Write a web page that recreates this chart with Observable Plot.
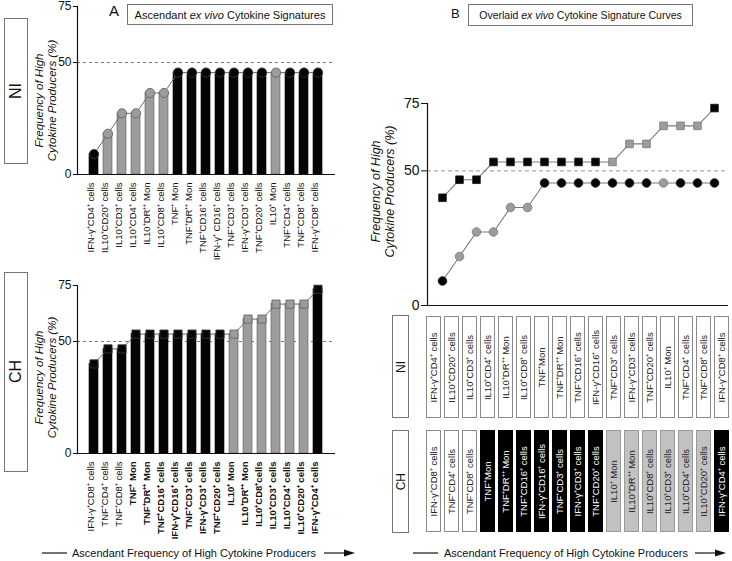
<!DOCTYPE html>
<html><head><meta charset="utf-8">
<script src="https://cdn.jsdelivr.net/npm/d3@7"></script>
<script src="https://cdn.jsdelivr.net/npm/@observablehq/plot@0.6"></script>
<style>
body{margin:0;background:#fff;font-family:"Liberation Sans",Arial,sans-serif;}
#root{position:relative;width:732px;height:561px;overflow:hidden;background:#fff;}
.box{position:absolute;border:1px solid #777;box-sizing:border-box;display:flex;align-items:center;justify-content:center;background:#fff;color:#111;white-space:nowrap;}
.vt{writing-mode:vertical-rl;transform:rotate(180deg);}
.lbl{position:absolute;color:#111;}
</style></head>
<body><div id="root">
<div class="lbl" style="left:109px;top:2px;font-size:15px;">A</div>
<div class="box" style="left:127px;top:4px;width:206px;height:21px;font-size:11px;">Ascendant&nbsp; <i>ex vivo</i>&nbsp;Cytokine Signatures</div>
<div class="lbl" style="left:451px;top:6px;font-size:13px;">B</div>
<div class="box" style="left:468px;top:4px;width:225px;height:22px;font-size:10.5px;">Overlaid&nbsp;<i>ex vivo</i>&nbsp;Cytokine Signature Curves</div>
<div class="box" style="left:4px;top:18px;width:24px;height:146px;font-size:16px;"><span class="vt">NI</span></div>
<div class="box" style="left:4px;top:272px;width:24px;height:200px;font-size:16px;"><span class="vt">CH</span></div>
<div class="box" style="left:392px;top:315px;width:17px;height:103px;font-size:12px;"><span class="vt">NI</span></div>
<div class="box" style="left:392px;top:430px;width:17px;height:103px;font-size:12px;"><span class="vt">CH</span></div>
<svg style="position:absolute;left:0;top:0" width="732" height="561" font-family="Liberation Sans, Arial, sans-serif">
  <line x1="42" y1="553" x2="67" y2="553" stroke="#111" stroke-width="1.2"/>
  <text x="194" y="557" text-anchor="middle" font-size="11" fill="#111">Ascendant Frequency of High Cytokine Producers</text>
  <line x1="324" y1="553" x2="348" y2="553" stroke="#111" stroke-width="1.2"/>
  <path d="M344,549.5 L355,553 L344,556.5 Z" fill="#111"/>
  <line x1="413" y1="553" x2="438" y2="553" stroke="#111" stroke-width="1.2"/>
  <text x="566" y="557" text-anchor="middle" font-size="11" fill="#111">Ascendant Frequency of High Cytokine Producers</text>
  <line x1="695" y1="553" x2="719" y2="553" stroke="#111" stroke-width="1.2"/>
  <path d="M715,549.5 L726,553 L715,556.5 Z" fill="#111"/>
</svg>
</div>
<script>
// ---- data ----
const ranks = d3.range(17);
const niLabels = ["IFN-γ⁺CD4⁺ cells","IL10⁺CD20⁺ cells","IL10⁺CD3⁺ cells","IL10⁺CD4⁺ cells","IL10⁺DR⁺⁺ Mon","IL10⁺CD8⁺ cells","TNF⁺ Mon","TNF⁺DR⁺⁺ Mon","TNF⁺CD16⁺ cells","IFN-γ⁺ CD16⁺ cells","TNF⁺CD3⁺ cells","IFN-γ⁺CD3⁺ cells","TNF⁺CD20⁺ cells","IL10⁺ Mon","TNF⁺CD4⁺ cells","TNF⁺CD8⁺ cells","IFN-γ⁺CD8⁺ cells"];
const niValues = [9.1,18.2,27.3,27.3,36.4,36.4,45.5,45.5,45.5,45.5,45.5,45.5,45.5,45.5,45.5,45.5,45.5];
const niTone = ["black","gray","gray","gray","gray","gray","black","black","black","black","black","black","black","gray","black","black","black"];
const niBoxLabels = ["IFN-γ⁺CD4⁺ cells","IL10⁺CD20⁺ cells","IL10⁺CD3⁺ cells","IL10⁺CD4⁺ cells","IL10⁺DR⁺⁺ Mon","IL10⁺CD8⁺ cells","TNF⁺Mon","TNF⁺DR⁺⁺ Mon","TNF⁺CD16⁺ cells","IFN-γ⁺CD16⁺ cells","TNF⁺CD3⁺ cells","IFN-γ⁺CD3⁺ cells","TNF⁺CD20⁺ cells","IL10⁺ Mon","TNF⁺CD4⁺ cells","TNF⁺CD8⁺ cells","IFN-γ⁺CD8⁺ cells"];

const chLabels = ["IFN-γ⁺CD8⁺ cells","TNF⁺CD4⁺ cells","TNF⁺CD8⁺ cells","TNF⁺ Mon","TNF⁺DR⁺⁺ Mon","TNF⁺CD16⁺ cells","IFN-γ⁺CD16⁺ cells","TNF⁺CD3⁺ cells","IFN-γ⁺CD3⁺ cells","TNF⁺CD20⁺ cells","IL10⁺ Mon","IL10⁺DR⁺⁺ Mon","IL10⁺CD8⁺cells","IL10⁺CD3⁺ cells","IL10⁺CD4⁺ cells","IL10⁺CD20⁺ cells","IFN-γ⁺CD4⁺ cells"];
const chValues = [40,46.7,46.7,53.3,53.3,53.3,53.3,53.3,53.3,53.3,53.3,60,60,66.7,66.7,66.7,73.3];
const chTone = ["black","black","black","black","black","black","black","black","black","black","gray","gray","gray","gray","gray","gray","black"];
const chEmph = [false,false,false,true,true,true,true,true,true,true,true,true,true,true,true,true,true];
const chBoxLabels = ["IFN-γ⁺CD8⁺ cells","TNF⁺CD4⁺ cells","TNF⁺CD8⁺ cells","TNF⁺Mon","TNF⁺DR⁺⁺ Mon","TNF⁺CD16⁺ cells","IFN-γ⁺CD16⁺ cells","TNF⁺CD3⁺ cells","IFN-γ⁺CD3⁺ cells","TNF⁺CD20⁺ cells","IL10⁺ Mon","IL10⁺DR⁺⁺ Mon","IL10⁺CD8⁺ cells","IL10⁺CD3⁺ cells","IL10⁺CD4⁺ cells","IL10⁺CD20⁺ cells","IFN-γ⁺CD4⁺ cells"];
const chBoxTone = ["white","white","white","black","black","black","black","black","black","black","gray","gray","gray","gray","gray","gray","black"];
const yTicks = [0,50,75];
const yLabel = "Frequency of High\nCytokine Producers (%)";

// ---- build ----
const FONT = '"Liberation Sans", Arial, sans-serif';
const root = document.getElementById("root");
function place(svg, left, top){ svg.style.position="absolute"; svg.style.left=left+"px"; svg.style.top=top+"px"; root.appendChild(svg); }
const fillOf = t => t==="black" ? "#050505" : t==="gray" ? "#9c9c9c" : "#ffffff";
const strokeOf = t => t==="gray" ? "#5a5a5a" : "#000";

const ni = niLabels.map((label,i)=>({i,label,value:niValues[i],tone:niTone[i],box:niBoxLabels[i]}));
const ch = chLabels.map((label,i)=>({i,label,value:chValues[i],tone:chTone[i],emph:chEmph[i],box:chBoxLabels[i],boxTone:chBoxTone[i]}));

function barPanel(rows, {top, height, marginTop, marginBottom, symbol, labelDy, ylDy}) {
  const p = Plot.plot({
    width: 370, height, marginLeft: 77, marginRight: 35, marginTop, marginBottom,
    style: {background: "transparent", fontFamily: FONT, overflow: "visible", color: "#111"},
    x: {type: "band", domain: rows.map(d => d.label), padding: 0.33, axis: null},
    y: {domain: [0, 75], axis: null},
    color: {type: "identity"},
    marks: [
      Plot.ruleY([50], {stroke: "#555", strokeDasharray: "3,3", strokeWidth: 0.8}),
      Plot.barY(rows, {x: "label", y: "value", fill: d => fillOf(d.tone), stroke: d => strokeOf(d.tone), strokeWidth: 0.6}),
      Plot.line(rows, {x: "label", y: "value", stroke: "#6a6a6a", strokeWidth: 1}),
      Plot.dot(rows, {x: "label", y: "value", r: 4.6, symbol, fill: d => fillOf(d.tone), stroke: d => d.tone === "gray" ? "#666" : "#333", strokeWidth: 0.9}),
      Plot.ruleY([0], {stroke: "#111", strokeWidth: 1.2}),
      Plot.frame({anchor: "left", stroke: "#111", strokeWidth: 1.2}),
      Plot.axisY({ticks: yTicks, tickSize: 4, tickPadding: 2, fontSize: 12, label: null}),
      Plot.text([yLabel], {text: d => d, frameAnchor: "left", textAnchor: "middle", lineAnchor: "middle", rotate: -90, dx: -32, dy: ylDy, fontStyle: "italic", fontSize: 11.5, lineHeight: 1.1}),
      Plot.text(rows.filter(d => !d.emph), {x: "label", text: "label", frameAnchor: "bottom", rotate: -90, textAnchor: "end", dy: labelDy, fontSize: 9.5}),
      Plot.text(rows.filter(d => d.emph), {x: "label", text: "label", frameAnchor: "bottom", rotate: -90, textAnchor: "end", dy: labelDy, fontSize: 9.5, fontWeight: "bold", ariaLabel: "emph"})
    ]
  });
  d3.select(p).selectAll('g[aria-label="emph"] text').style("text-decoration", "underline");
  place(p, 0, top);
}

barPanel(ni, {top: 0, height: 290, marginTop: 6, marginBottom: 116, symbol: "circle", labelDy: 8, ylDy: 10});
barPanel(ch, {top: 270, height: 291, marginTop: 15, marginBottom: 108, symbol: "square", labelDy: 8, ylDy: 8});

// Panel B curves
const pB = Plot.plot({
  width: 362, height: 320, marginLeft: 57, marginRight: 4, marginTop: 103, marginBottom: 15,
  style: {background: "transparent", fontFamily: FONT, overflow: "visible", color: "#111"},
  x: {type: "point", domain: ranks, padding: 0.51, axis: null},
  y: {domain: [0, 75], axis: null},
  color: {type: "identity"},
  marks: [
    Plot.ruleY([50], {stroke: "#aaa", strokeDasharray: "4,3", strokeWidth: 1.2}),
    Plot.line(ni, {x: "i", y: "value", stroke: "#7a7a7a", strokeWidth: 1.1}),
    Plot.line(ch, {x: "i", y: "value", stroke: "#7a7a7a", strokeWidth: 1.1}),
    Plot.dot(ni, {x: "i", y: "value", r: 4.3, fill: d => fillOf(d.tone), stroke: d => d.tone === "gray" ? "#777" : "#111", strokeWidth: 0.8}),
    Plot.dot(ch, {x: "i", y: "value", r: 4.3, symbol: "square", fill: d => fillOf(d.tone), stroke: d => d.tone === "gray" ? "#777" : "#111", strokeWidth: 0.8}),
    Plot.ruleY([0], {stroke: "#111", strokeWidth: 1.2}),
    Plot.frame({anchor: "left", stroke: "#111", strokeWidth: 1.2}),
    Plot.axisY({ticks: yTicks, tickSize: 6, tickPadding: 2, fontSize: 14, label: null}),
    Plot.text([yLabel], {text: d => d, frameAnchor: "left", textAnchor: "middle", lineAnchor: "middle", rotate: -90, dx: -45, dy: -13, fontStyle: "italic", fontSize: 12.5, lineHeight: 1.1})
  ]
});
place(pB, 370, 0);

// Panel B label boxes
const boxFill = {white: "#ffffff", black: "#000000", gray: "#c2c2c2"};
const boxStroke = {white: "#8a8a8a", black: "#000000", gray: "#9a9a9a"};
const boxRows = [
  ...ni.map(d => ({i: d.i, grp: "NI", label: d.box, tone: "white"})),
  ...ch.map(d => ({i: d.i, grp: "CH", label: d.box, tone: d.boxTone}))
];
const pBox = Plot.plot({
  width: 362, height: 240, marginLeft: 54, marginRight: 1, marginTop: 15, marginBottom: 7,
  style: {background: "transparent", fontFamily: FONT, overflow: "visible"},
  x: {type: "band", domain: ranks, paddingInner: 0.17, paddingOuter: 0, axis: null},
  y: {type: "band", domain: ["NI", "CH"], paddingInner: 0.104, paddingOuter: 0, axis: null},
  color: {type: "identity"},
  marks: [
    Plot.cell(boxRows, {x: "i", y: "grp", fill: d => boxFill[d.tone], stroke: d => boxStroke[d.tone], strokeWidth: 1, inset: 0.5}),
    Plot.text(boxRows, {x: "i", y: "grp", text: "label", rotate: -90, fill: d => d.tone === "black" ? "#ffffff" : "#222222", fontSize: 9.5})
  ]
});
place(pBox, 370, 300);
</script>
</body></html>
